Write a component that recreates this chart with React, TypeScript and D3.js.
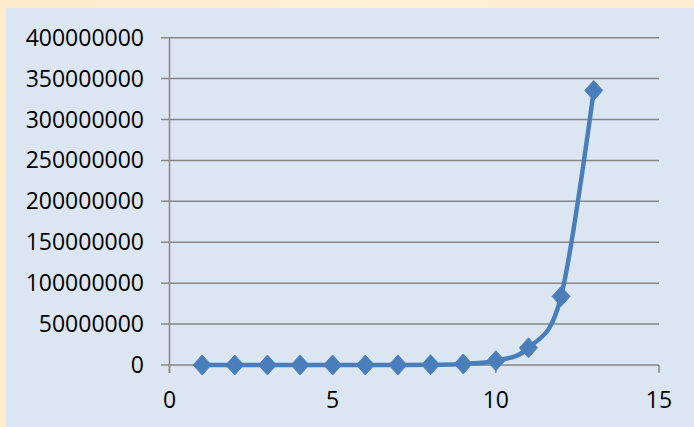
import React from "react";
import * as d3 from "d3";

const xValues = [1, 2, 3, 4, 5, 6, 7, 8, 9, 10, 11, 12, 13];
const yValues = [20, 80, 320, 1280, 5120, 20480, 81920, 327680, 1310720, 5242880, 20971520, 83886080, 335544320];
const xTicks = [0, 5, 10, 15];
const yTicks = [0, 50000000, 100000000, 150000000, 200000000, 250000000, 300000000, 350000000, 400000000];

const W = 694;
const H = 427;
const FONT = "'Open Sans', 'Noto Sans', sans-serif";

export default function App() {
  const x = d3.scaleLinear().domain([0, 15]).range([169.5, 659]);
  const y = d3.scaleLinear().domain([0, 400000000]).range([365, 37.7]);
  const pts: [number, number][] = xValues.map((v, i) => [x(v), y(yValues[i])]);
  const line = d3.line().curve(d3.curveCatmullRom.alpha(0))(pts) || "";
  const diamond = (cx: number, cy: number) =>
    `M${cx},${cy - 10}L${cx + 9},${cy}L${cx},${cy + 10}L${cx - 9},${cy}Z`;
  return (
    <svg width={W} height={H} style={{ position: "absolute", left: 0, top: 0, display: "block" }}>
      <defs>
        <linearGradient id="frame" x1="0" y1="0" x2="1" y2="0">
          <stop offset="0" stopColor="#fdebc9" />
          <stop offset="0.5" stopColor="#fdefd6" />
          <stop offset="1" stopColor="#fdecd0" />
        </linearGradient>
      </defs>
      <rect x={0} y={0} width={W} height={H} fill="url(#frame)" />
      <rect x={6} y={8} width={W - 6} height={H - 8} fill="#dce6f2" />
      {yTicks.map((t) => (
        <line key={"g" + t} x1={161} x2={659} y1={y(t)} y2={y(t)} stroke="#878787" strokeWidth={1.5} />
      ))}
      <line x1={x(0)} x2={x(0)} y1={y(400000000)} y2={373} stroke="#878787" strokeWidth={1.5} />
      {xTicks.map((t) => (
        <line key={"xt" + t} x1={x(t)} x2={x(t)} y1={y(0)} y2={373} stroke="#878787" strokeWidth={1.5} />
      ))}
      {yTicks.map((t) => (
        <text key={"yl" + t} x={144} y={y(t)} dy="0.35em" textAnchor="end" fontFamily={FONT} fontSize={23} fill="#000">
          {t}
        </text>
      ))}
      {xTicks.map((t) => (
        <text key={"xl" + t} x={x(t)} y={408} textAnchor="middle" fontFamily={FONT} fontSize={23} fill="#000">
          {t}
        </text>
      ))}
      <path d={line} fill="none" stroke="#4a7ebb" strokeWidth={4.5} strokeLinejoin="round" />
      {pts.map(([cx, cy], i) => (
        <path key={"m" + i} d={diamond(cx, cy)} fill="#4a7ebb" stroke="#4f81bd" strokeWidth={1} />
      ))}
    </svg>
  );
}
